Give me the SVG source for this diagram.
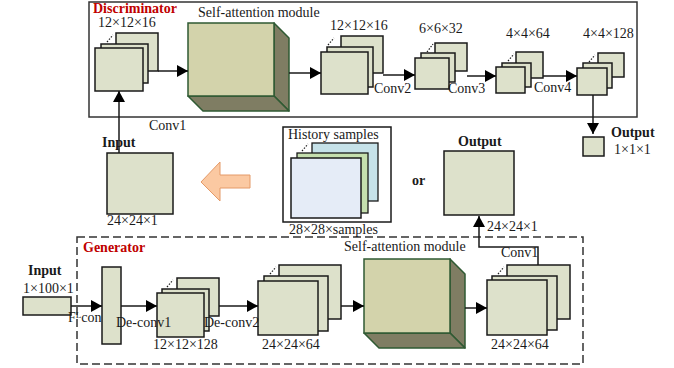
<svg xmlns="http://www.w3.org/2000/svg" width="674" height="368" viewBox="0 0 674 368">
  <style>
    .t { font-family: "Liberation Serif", "Times New Roman", serif; font-size: 14px; fill: #1a1a1a; }
    .b { font-weight: bold; }
    .red { fill: #c00000; font-weight: bold; }
    .fm { fill: #dde1cb; stroke: #1a1a1a; stroke-width: 1.5; }
    .dots { stroke: #1a1a1a; stroke-width: 1.2; stroke-dasharray: 1.5 1.5; fill: none; }
    .line { stroke: #1a1a1a; stroke-width: 1.5; fill: none; }
    .front { fill: #d3d3ab; stroke: #2f5a33; stroke-width: 1.5; }
    .side { fill: #7f7d63; stroke: #2f5a33; stroke-width: 1.5; stroke-linejoin: round; }
  </style>
  <defs>
    <marker id="ah" markerWidth="11" markerHeight="12" refX="11" refY="6" orient="auto" markerUnits="userSpaceOnUse">
      <path d="M0,0 L11,6 L0,12 Z" fill="#000"/>
    </marker>
  </defs>

  <rect width="674" height="368" fill="#ffffff"/>

  <!-- frames -->
  <g id="discriminator-frame">
    <rect x="89" y="2" width="548" height="115" fill="none" stroke="#333" stroke-width="1.5"/>
    <text class="t red" x="93" y="13">Discriminator</text>
  </g>
  <g id="generator-frame">
    <rect x="77" y="237" width="506" height="127" fill="none" stroke="#333" stroke-width="1.5" stroke-dasharray="8 4"/>
    <text class="t red" x="83" y="252">Generator</text>
  </g>

  <!-- discriminator -->
  <g id="d-input">
    <text class="t b" x="102" y="147">Input</text>
    <rect class="fm" x="107" y="153" width="66" height="61"/>
    <text class="t" x="107" y="225">24×24×1</text>
  </g>
  <g id="d-fm1">
    <text class="t" x="98" y="27">12×12×16</text>
    <rect class="fm" x="116" y="33" width="42" height="38"/>
    <rect class="fm" x="101" y="44" width="47" height="39"/>
    <rect class="fm" x="95" y="48" width="48" height="43"/>
    <line class="dots" x1="107" y1="42" x2="113" y2="35"/>
  </g>
  <g id="d-attention">
    <text class="t" x="198" y="17">Self-attention module</text>
    <polygon class="side" points="274,23 289,38 289,111 274,96"/>
    <polygon class="side" points="188,96 274,96 289,111 203,111"/>
    <rect class="front" x="188" y="23" width="86" height="73"/>
  </g>
  <g id="d-fm2">
    <text class="t" x="330" y="30">12×12×16</text>
    <rect class="fm" x="341" y="36" width="42" height="37"/>
    <rect class="fm" x="327" y="47" width="46" height="40"/>
    <rect class="fm" x="321" y="52" width="47" height="42"/>
    <line class="dots" x1="328" y1="45" x2="334" y2="38"/>
  </g>
  <g id="d-fm3">
    <text class="t" x="419" y="33">6×6×32</text>
    <rect class="fm" x="435" y="43" width="32" height="28"/>
    <rect class="fm" x="421" y="53" width="34" height="29"/>
    <rect class="fm" x="415" y="58" width="34" height="31"/>
    <line class="dots" x1="427" y1="52" x2="433" y2="44"/>
  </g>
  <g id="d-fm4">
    <text class="t" x="506" y="38">4×4×64</text>
    <rect class="fm" x="516" y="52" width="27" height="26"/>
    <rect class="fm" x="502" y="63" width="29" height="24"/>
    <rect class="fm" x="496" y="67" width="29" height="26"/>
    <line class="dots" x1="508" y1="61" x2="514" y2="54"/>
  </g>
  <g id="d-fm5">
    <text class="t" x="583" y="38">4×4×128</text>
    <rect class="fm" x="598" y="53" width="26" height="24"/>
    <rect class="fm" x="583" y="63" width="29" height="25"/>
    <rect class="fm" x="577" y="68" width="30" height="27"/>
    <line class="dots" x1="589" y1="62" x2="595" y2="55"/>
  </g>
  <g id="d-output">
    <rect class="fm" x="583" y="137" width="21" height="19"/>
    <text class="t b" x="611" y="137">Output</text>
    <text class="t" x="614" y="154">1×1×1</text>
  </g>

  <!-- sample pool -->
  <g id="history">
    <rect x="283" y="127" width="108" height="95" fill="#fff" stroke="#1a1a1a" stroke-width="1.5"/>
    <rect x="312" y="143" width="66" height="58" fill="#c6e2e9" stroke="#1a1a1a" stroke-width="1.3"/>
    <rect x="297" y="153" width="71" height="60" fill="#c5dfae" stroke="#1a1a1a" stroke-width="1.3"/>
    <rect x="291" y="158" width="70" height="60" fill="#e5ecf7" stroke="#1a1a1a" stroke-width="1.5"/>
    <line class="dots" x1="302" y1="151" x2="308" y2="144"/>
    <text class="t" x="288" y="139">History samples</text>
    <text class="t" x="289" y="234">28×28×samples</text>
  </g>
  <g id="transfer-arrow">
    <polygon points="201,182 220,162 220,175 250,175 250,188 220,188 220,201" fill="#fbc9a2" stroke="#e49a68" stroke-width="1"/>
  </g>
  <text class="t b" x="412" y="185">or</text>
  <g id="g-output">
    <text class="t b" x="458" y="146">Output</text>
    <rect class="fm" x="444" y="151" width="70" height="64"/>
    <text class="t" x="487" y="231">24×24×1</text>
  </g>

  <!-- generator -->
  <g id="g-input">
    <text class="t b" x="28" y="275">Input</text>
    <text class="t" x="23" y="293">1×100×1</text>
    <rect class="fm" x="23" y="297" width="48" height="18"/>
  </g>
  <g id="g-fc">
    <rect class="fm" x="102" y="267" width="19" height="77"/>
  </g>
  <g id="g-fm1">
    <rect class="fm" x="177" y="278" width="42" height="38"/>
    <rect class="fm" x="162" y="289" width="47" height="42"/>
    <rect class="fm" x="157" y="293" width="47" height="44"/>
    <line class="dots" x1="167" y1="287" x2="173" y2="280"/>
    <text class="t" x="153" y="349">12×12×128</text>
  </g>
  <g id="g-fm2">
    <rect class="fm" x="279" y="265" width="62" height="54"/>
    <rect class="fm" x="264" y="276" width="64" height="55"/>
    <rect class="fm" x="258" y="281" width="60" height="54"/>
    <line class="dots" x1="270" y1="274" x2="276" y2="267"/>
    <text class="t" x="262" y="349">24×24×64</text>
  </g>
  <g id="g-attention">
    <text class="t" x="344" y="251">Self-attention module</text>
    <polygon class="side" points="450,259 465,274 465,348 450,333"/>
    <polygon class="side" points="364,333 450,333 465,348 379,348"/>
    <rect class="front" x="364" y="259" width="86" height="74"/>
  </g>
  <g id="g-fm3">
    <rect class="fm" x="507" y="265" width="63" height="54"/>
    <rect class="fm" x="492" y="276" width="65" height="54"/>
    <rect class="fm" x="487" y="280" width="60" height="55"/>
    <line class="dots" x1="498" y1="274" x2="504" y2="267"/>
    <text class="t" x="491" y="349">24×24×64</text>
  </g>

  <!-- connectors -->
  <g id="connectors">
    <line class="line" x1="119" y1="153" x2="119" y2="91" marker-end="url(#ah)"/>
    <line class="line" x1="158" y1="71" x2="188" y2="71" marker-end="url(#ah)"/>
    <line class="line" x1="289" y1="73" x2="321" y2="73" marker-end="url(#ah)"/>
    <line class="line" x1="383" y1="75" x2="415" y2="75" marker-end="url(#ah)"/>
    <line class="line" x1="467" y1="76" x2="496" y2="76" marker-end="url(#ah)"/>
    <line class="line" x1="543" y1="76" x2="577" y2="76" marker-end="url(#ah)"/>
    <line class="line" x1="593" y1="95" x2="593" y2="134" marker-end="url(#ah)"/>
    <line class="line" x1="71" y1="306" x2="102" y2="306" marker-end="url(#ah)"/>
    <line class="line" x1="121" y1="306" x2="157" y2="306" marker-end="url(#ah)"/>
    <line class="line" x1="219" y1="306" x2="258" y2="306" marker-end="url(#ah)"/>
    <line class="line" x1="341" y1="306" x2="364" y2="306" marker-end="url(#ah)"/>
    <line class="line" x1="465" y1="308" x2="487" y2="308" marker-end="url(#ah)"/>
    <polyline class="line" points="538,265 538,247 479,247 479,216" marker-end="url(#ah)"/>
  </g>

  <!-- connector labels -->
  <g id="labels">
    <text class="t" x="149" y="130">Conv1</text>
    <text class="t" x="374" y="93">Conv2</text>
    <text class="t" x="448" y="93">Conv3</text>
    <text class="t" x="534" y="92">Conv4</text>
    <text class="t" x="68" y="322">F<tspan font-size="9" dy="-4">L</tspan><tspan dy="4">con</tspan></text>
    <text class="t" x="116" y="327">De-conv1</text>
    <text class="t" x="204" y="327">De-conv2</text>
    <text class="t" x="501" y="257">Conv1</text>
  </g>
</svg>
